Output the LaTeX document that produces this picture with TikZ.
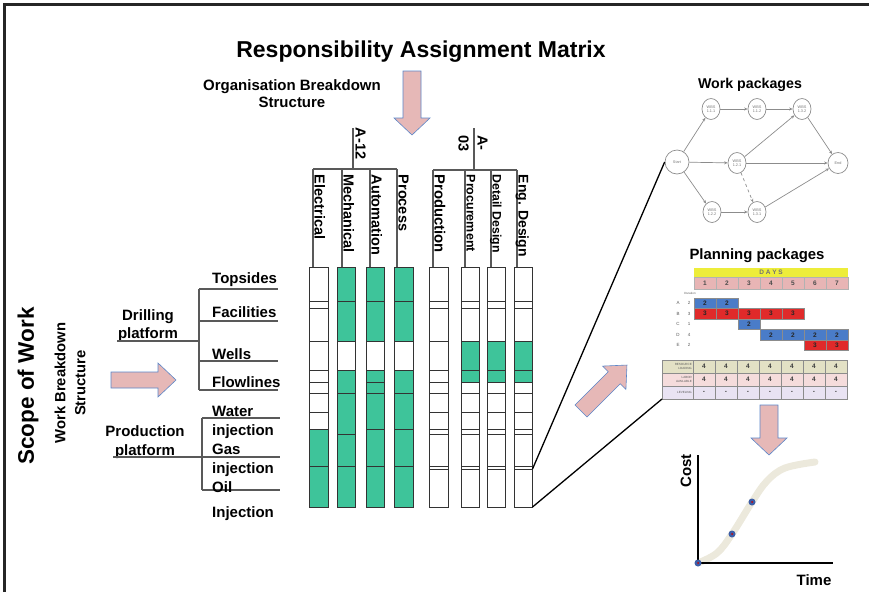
\documentclass[tikz,border=0pt]{standalone}
\usepackage{fontspec}
\setmainfont{Liberation Sans}
\usetikzlibrary{shapes.geometric,arrows.meta}

\definecolor{ramgreen}{HTML}{3EC49A}
\definecolor{arrowpink}{HTML}{E6B8B7}
\definecolor{arrowblue}{HTML}{5B86C8}
\definecolor{barblue}{HTML}{4A7CC8}
\definecolor{barred}{HTML}{E02A2A}
\definecolor{dayyellow}{HTML}{EDED3A}
\definecolor{daypink}{HTML}{E8B5B5}
\definecolor{loadbeige}{HTML}{E3E1C5}
\definecolor{laborpink}{HTML}{F5DCDC}
\definecolor{levellilac}{HTML}{E9E3F3}
\definecolor{curvebeige}{HTML}{ECE9DC}
\definecolor{dotblue}{HTML}{3C5EA8}

\tikzset{
  lbl/.style={font=\bfseries\fontsize{#1}{18}\selectfont, inner sep=1pt},
  lbl/.default=15,
  collbl/.style={lbl=#1, rotate=-90, anchor=south west, inner sep=1.5pt, text depth=0pt},
  collbl/.default=14.5,
  cell/.style={draw=black!80, line width=0.8pt},
  tree/.style={draw=black!65, line width=1.2pt},
  blockarrow/.style={fill=arrowpink, draw=arrowblue, line width=0.6pt},
  wbs/.style={draw=black!45, ellipse, minimum width=18pt, minimum height=21pt,
    inner sep=0pt, align=center, line width=0.7pt, text=black!55,
    font=\fontsize{3.8}{4.3}\selectfont},
  link/.style={draw=black!45, line width=0.7pt, -{Stealth[length=3.5pt,width=3pt]}},
  zoomline/.style={draw=black, line width=1.3pt},
  tiny/.style={font=\fontsize{3.5}{4}\selectfont, text=black!65, inner sep=0pt},
  val/.style={font=\bfseries\fontsize{6.5}{7}\selectfont, text=black!75, inner sep=0pt},
}

\begin{document}
\begin{tikzpicture}[x=1pt, y=-1pt]

    \useasboundingbox (0,0) rectangle (869,592);

    %% Frame
    \draw[line width=2.5pt, black!85] (4.5,592) -- (4.5,4.5) -- (869,4.5);

    %% Headings
    \node[lbl=23] (title) at (421,52) {Responsibility Assignment Matrix};
    \node[lbl, align=center, font=\bfseries\fontsize{15}{17}\selectfont] (obs) at (292,94)
        {Organisation Breakdown\\Structure};

    % OBS arrow
    \draw[blockarrow] (403,71) -- (421,71) -- (421,118) -- (430,118) -- (412,135)
        -- (394,118) -- (403,118) -- cycle;

    %% Work breakdown side
    \node[lbl=22.5, rotate=90] (scope) at (28,386) {Scope of Work};
    \node[lbl, rotate=90, align=center, font=\bfseries\fontsize{14.8}{20}\selectfont] (wbs) at (70,383)
        {Work Breakdown\\Structure};

    % WBS arrow
    \draw[blockarrow] (111,372) -- (158,372) -- (158,363) -- (176,380) -- (158,397)
        -- (158,388) -- (111,388) -- cycle;

    % Drilling platform
    \node[lbl, align=center] (drill) at (148,326) {Drilling\\platform};
    \coordinate (drillL) at (117,341);
    \coordinate (drillJ) at (199,341);
    \draw[tree] (drillL) -- (drillJ);
    \draw[tree] (199,289) -- (199,390);
    \foreach \y/\name/\ty in {289/Topsides/280, 321/Facilities/312, 361/Wells/354, 390/Flowlines/382} {
        \draw[tree] (199,\y) -- (278,\y);
        \node[lbl, anchor=west] (br-\name) at (211,\ty) {\name};
    }

    % Production platform
    \node[lbl, align=center, font=\bfseries\fontsize{15}{19}\selectfont] (prod) at (145,442.5)
        {Production\\platform};
    \coordinate (prodL) at (113,457);
    \coordinate (prodJ) at (202,457);
    \draw[tree] (prodL) -- (prodJ);
    \draw[tree] (202,418) -- (202,490);
    \foreach \y in {418,457,490}
        \draw[tree] (202,\y) -- (280,\y);
    \node[lbl, anchor=west, align=left, font=\bfseries\fontsize{15}{19}\selectfont] (water) at (211,422.5)
        {Water\\injection};
    \node[lbl, anchor=west, align=left, font=\bfseries\fontsize{15}{19}\selectfont] (gas) at (211,460.5)
        {Gas\\injection};
    \node[lbl, anchor=west] (oil) at (211,487) {Oil};
    \node[lbl, anchor=west] (inj) at (211,514) {Injection};

    %% Organisation headers
    % A-12
    \draw[tree] (353,128) -- (353,169);
    \draw[tree] (313,169) -- (397,169);
    \node[collbl] (a12) at (354,126) {A-12};
    \foreach \x/\name in {313/Electrical, 342/Mechanical, 370/Automation, 397/Process} {
        \draw[tree] (\x,169) -- (\x,267);
        \node[collbl] (h-\name) at (\x,173) {\name};
    }

    % A-03
    \draw[tree] (474,128) -- (474,170);
    \draw[tree] (433,170) -- (517,170);
    \node[lbl=14.5, rotate=-90, anchor=west, align=left, font=\bfseries\fontsize{14.5}{19}\selectfont]
        (a03) at (473,134) {A-\\03};
    \foreach \x/\name/\fs in {433/Production/14.8, 465/Procurement/12.5, 491/Detail Design/12.3, 517/Eng. Design/14} {
        \draw[tree] (\x,170) -- (\x,267);
        \node[collbl=\fs] (h-\x) at (\x,173) {\name};
    }

    %% Matrix cells
    % Electrical
    \foreach \ya/\yb/\c in {267/301/white, 301/308/white, 308/341/white, 341/370/white,
        370/382/white, 382/393/white, 393/412/white, 412/429/white, 429/466/ramgreen, 466/507/ramgreen}
        \draw[cell, fill=\c] (309,\ya) rectangle (328,\yb);
    % Mechanical
    \foreach \ya/\yb/\c in {267/301/ramgreen, 301/341/ramgreen, 341/370/white, 370/393/ramgreen,
        393/434/ramgreen, 434/466/ramgreen, 466/507/ramgreen}
        \draw[cell, fill=\c] (337,\ya) rectangle (355,\yb);
    % Automation
    \foreach \ya/\yb/\c in {267/301/ramgreen, 301/341/ramgreen, 341/370/white, 370/382/ramgreen,
        382/393/ramgreen, 393/429/ramgreen, 429/466/ramgreen, 466/507/ramgreen}
        \draw[cell, fill=\c] (366,\ya) rectangle (384,\yb);
    % Process
    \foreach \ya/\yb/\c in {267/301/ramgreen, 301/341/ramgreen, 341/370/white, 370/393/ramgreen,
        393/429/ramgreen, 429/466/ramgreen, 466/507/ramgreen}
        \draw[cell, fill=\c] (394,\ya) rectangle (413,\yb);
    % Production
    \foreach \ya/\yb in {267/301, 301/308, 308/341, 341/370, 370/382, 382/393, 393/412,
        412/429, 429/434, 434/466, 466/469, 469/507}
        \draw[cell, fill=white] (429,\ya) rectangle (448,\yb);
    % Procurement, detail and engineering design
    \foreach \x in {461,487,514} {
        \foreach \ya/\yb/\c in {267/301/white, 301/308/white, 308/341/white, 341/370/ramgreen,
            370/382/ramgreen, 382/393/white, 393/412/white, 412/429/white, 429/434/white,
            434/466/white, 466/469/white, 469/507/white}
            \draw[cell, fill=\c] (\x,\ya) rectangle (\x+18.5,\yb);
    }
    \coordinate (engA) at (532.5,469);
    \coordinate (engB) at (532.5,507);

    %% Work packages network
    \node[lbl=14.2] (wp) at (750,85) {Work packages};
    \node[wbs, minimum width=24pt, minimum height=24pt] (start) at (677,162) {Start};
    \node[wbs] (w111) at (711,109) {WBS\\1.1.1};
    \node[wbs] (w112) at (757,109) {WBS\\1.1.2};
    \node[wbs] (w132) at (802,109) {WBS\\1.3.2};
    \node[wbs] (w121) at (737,163) {WBS\\1.2.1};
    \node[wbs, minimum width=20pt] (end) at (838,163) {End};
    \node[wbs] (w122) at (712,212) {WBS\\1.2.2};
    \node[wbs] (w131) at (757,212) {WBS\\1.3.1};

    \draw[link] (start) -- (w111);
    \draw[link] (start) -- (w121);
    \draw[link] (start) -- (w122);
    \draw[link] (w111) -- (w112);
    \draw[link] (w112) -- (w132);
    \draw[link] (w121) -- (w132);
    \draw[link] (w121) -- (end);
    \draw[link] (w132) -- (end);
    \draw[link] (w122) -- (w131);
    \draw[link] (w131) -- (end);
    \draw[link, dashed] (w121) -- (w131);

    %% Planning packages
    \node[lbl=14.9] (pp) at (757,256) {Planning packages};
    \fill[dayyellow] (694,268) rectangle (848,277);
    \node[val, text=black!55] (days) at (771,272.5) {D A Y S};
    \foreach \d in {1,...,7} {
        \draw[fill=daypink, draw=black!30, line width=0.4pt] ({694+22*(\d-1)},277) rectangle ({694+22*\d},289);
        \node[val, text=black!70] (day\d) at ({683+22*\d},283) {\d};
    }
    \node[tiny, font=\fontsize{3}{3.5}\selectfont] (dur) at (690,293) {Duration};

    % activity bars
    \foreach \r/\dur/\y in {A/2/303.25, B/3/313.75, C/1/324.25, D/4/334.75, E/2/345.25} {
        \node[tiny, font=\fontsize{4.5}{5}\selectfont] (act\r) at (678,\y) {\r};
        \node[tiny, font=\fontsize{4.5}{5}\selectfont] (dur\r) at (689,\y) {\dur};
    }
    \foreach \first/\last/\ya/\c/\v in {1/2/298/barblue/2, 1/5/308.5/barred/3, 3/3/319/barblue/2,
        4/7/329.5/barblue/2, 6/7/340/barred/3} {
        \foreach \d in {\first,...,\last} {
            \draw[fill=\c, draw=black!45, line width=0.3pt] ({694+22*(\d-1)},\ya) rectangle ++(22,10.5);
            \node[val, text=black!85] at ({705+22*(\d-1)},\ya+5.25) {\v};
        }
    }

    % resource table
    \foreach \ya/\c/\name/\v in {360/loadbeige/{RESOURCE\\LOADING}/4, 373/laborpink/{LABOR\\AVAILABLE}/4,
        386/levellilac/LEVELING/-} {
        \draw[fill=\c, draw=black!45, line width=0.4pt] (662,\ya) rectangle (693,\ya+13);
        \node[tiny, font=\fontsize{3}{3.5}\selectfont, align=right, anchor=east] at (692,\ya+6.5) {\name};
        \foreach \d in {1,...,7} {
            \draw[fill=\c, draw=black!45, line width=0.4pt] ({671+22*\d},\ya) rectangle ++(22,13);
            \node[val] at ({682+22*\d},\ya+6.5) {\v};
        }
    }
    \coordinate (tablesw) at (662,399);

    %% Zoom lines
    \draw[zoomline] (engA) -- (start.west);
    \draw[zoomline] (engB) -- (tablesw);

    %% Arrows to planning and cost
    \draw[blockarrow, shift={(581,411)}, rotate=45] (0,-8.5) -- (47,-8.5) -- (47,-16.5) -- (65,0)
        -- (47,16.5) -- (47,8.5) -- (0,8.5) -- cycle;
    \draw[blockarrow] (760,405) -- (778,405) -- (778,438) -- (787,438) -- (769,455)
        -- (751,438) -- (760,438) -- cycle;

    %% Cost curve
    \draw[curvebeige, line width=7pt, line cap=round] plot[smooth, tension=0.6]
        coordinates {(698,563) (717,553) (732,534) (752,502) (767,481) (785,468) (815,462)};
    \coordinate (origin) at (698,563);
    \draw[line width=2pt] (698,455) -- (origin) -- (833,563);
    \foreach \p in {(698,563), (732,534), (752,502)} {
        \fill[dotblue] \p circle (3.5pt);
        \fill[red!80!black] \p circle (1pt);
    }
    \node[lbl, rotate=90] (cost) at (686,471) {Cost};
    \node[lbl] (time) at (814,580) {Time};

\end{tikzpicture}
\end{document}
